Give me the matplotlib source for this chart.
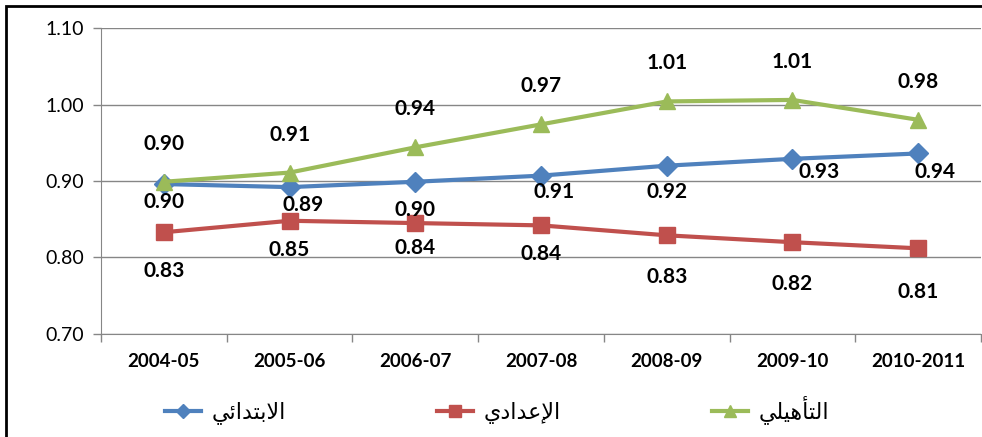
import matplotlib.pyplot as plt
from matplotlib.patches import Rectangle

# data
years = ["2004-05", "2005-06", "2006-07", "2007-08", "2008-09", "2009-10", "2010-2011"]
primary = [0.896, 0.892, 0.899, 0.907, 0.920, 0.929, 0.936]
preparatory = [0.833, 0.848, 0.845, 0.842, 0.829, 0.820, 0.812]
qualifying = [0.899, 0.911, 0.944, 0.974, 1.004, 1.006, 0.980]

primary_labels = ["0.90", "0.89", "0.90", "0.91", "0.92", "0.93", "0.94"]
preparatory_labels = ["0.83", "0.85", "0.84", "0.84", "0.83", "0.82", "0.81"]
qualifying_labels = ["0.90", "0.91", "0.94", "0.97", "1.01", "1.01", "0.98"]

# Arabic legend names, pre-shaped (presentation forms, visual order)
# الابتدائي / الإعدادي / التأهيلي
name_primary = "\uFEF2\uFE8B\uFE8D\uFEAA\uFE98\uFE91\uFEFB\uFE8D"
name_preparatory = "\uFEF1\uFEA9\uFE8D\uFEAA\uFECB\uFEF9\uFE8D"
name_qualifying = "\uFEF2\uFEE0\uFEF4\uFEEB\uFE84\uFE98\uFEDF\uFE8D"

BLUE = "#4F81BD"
RED = "#C0504D"
GREEN = "#9BBB59"

# label offsets in pixels (dx, dy), as Excel placed them
primary_off = [(0, -18), (14, -18), (0, -28), (13, -16), (0, -26), (27, -13), (17, -19)]
preparatory_off = [(0, -39), (0, -29), (0, -25), (0, -29), (0, -42), (0, -42), (0, -44)]
qualifying_off = [(0, 38)] * 7

plt.rcParams['font.family'] = ['Lato', 'DejaVu Sans']

fig = plt.figure(figsize=(9.82, 4.37), dpi=100)
ax = fig.add_axes([101 / 982, (437 - 334) / 437, 880 / 982, 306 / 437])

x = list(range(len(years)))
ax.plot(x, primary, color=BLUE, lw=3, marker='D', ms=10, label=name_primary, zorder=3)
ax.plot(x, preparatory, color=RED, lw=3, marker='s', ms=11, label=name_preparatory, zorder=3)
ax.plot(x, qualifying, color=GREEN, lw=3, marker='^', ms=12, label=name_qualifying, zorder=3)

for vals, labs, offs in [(primary, primary_labels, primary_off),
                         (preparatory, preparatory_labels, preparatory_off),
                         (qualifying, qualifying_labels, qualifying_off)]:
    for xi, v, lab, off in zip(x, vals, labs, offs):
        ax.annotate(lab, (xi, v), xytext=off, textcoords='offset pixels',
                    ha='center', va='center', fontsize=15, fontweight='bold',
                    color='black', zorder=4)

ax.set_xlim(-0.5, len(years) - 0.5)
ax.set_ylim(0.70, 1.10)
ax.set_yticks([0.70, 0.80, 0.90, 1.00, 1.10])
ax.set_yticklabels(["0.70", "0.80", "0.90", "1.00", "1.10"], fontsize=14)
ax.set_xticks(x)
ax.set_xticklabels(years, fontsize=13.5, fontweight='bold')
ax.set_xticks([i - 0.5 for i in range(len(years) + 1)], minor=True)
ax.tick_params(axis='x', which='major', length=0, pad=14)
ax.tick_params(axis='x', which='minor', length=6, color='#868686', width=1)
ax.tick_params(axis='y', length=6, color='#868686', width=1, pad=6)
ax.yaxis.grid(True, color='#868686', lw=1)
ax.set_axisbelow(True)
for s in ['top', 'right']:
    ax.spines[s].set_visible(False)
ax.spines['left'].set_color('#868686')
ax.spines['bottom'].set_color('#868686')

leg = fig.legend(loc='center left', bbox_to_anchor=(165 / 982, 27 / 437), ncol=3,
                 frameon=False, borderpad=0, borderaxespad=0, handlelength=1.6,
                 handletextpad=0.5, columnspacing=6.8, markerscale=0.75,
                 prop={'family': 'DejaVu Sans', 'size': 16})

# outer chart frame
fig.patches.append(Rectangle((6 / 982, -0.1), 1.1, 1.1 - 6 / 437,
                             transform=fig.transFigure, fill=False,
                             edgecolor='black', lw=2))

fig.savefig("out.png", dpi=100)
